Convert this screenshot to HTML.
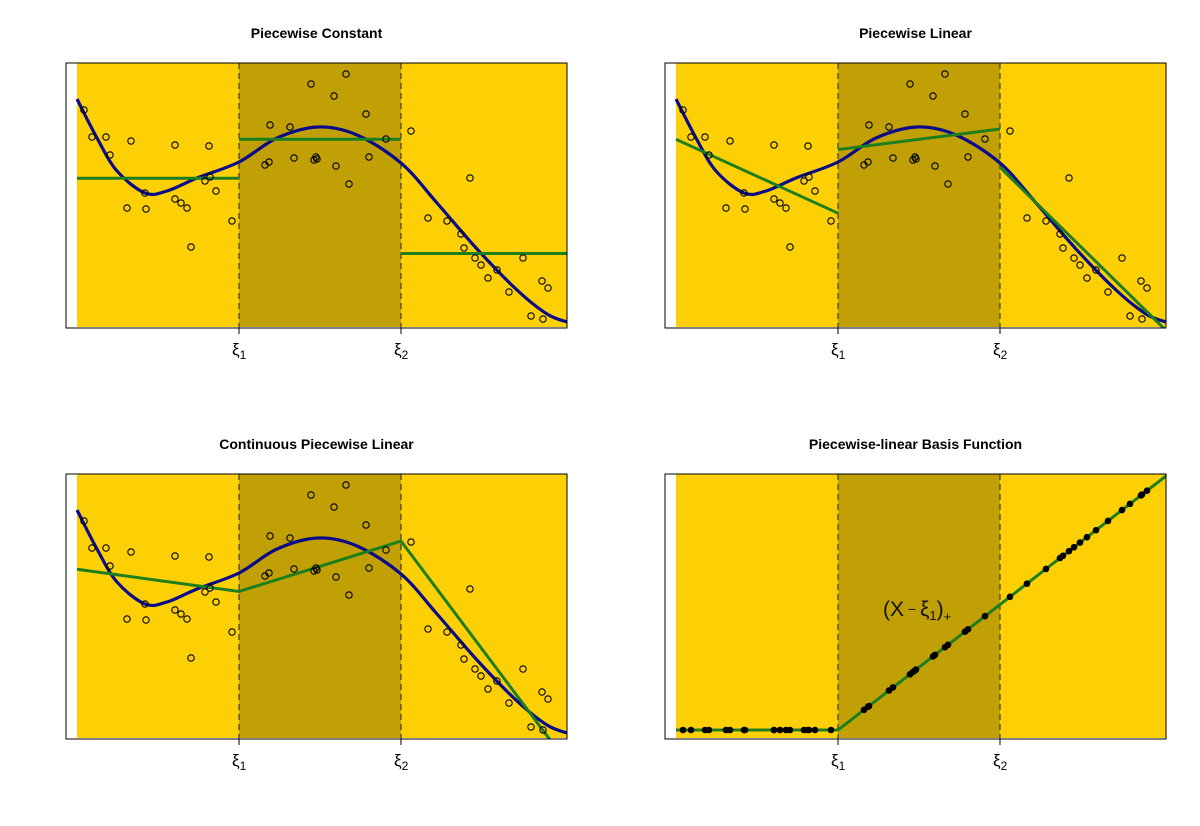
<!DOCTYPE html>
<html><head><meta charset="utf-8"><style>
body{margin:0;background:#fff;width:1200px;height:821px;overflow:hidden}
svg text{font-family:"Liberation Sans",sans-serif}
</style></head><body>
<svg id="c" width="1200" height="821" xmlns="http://www.w3.org/2000/svg"></svg>
<script>
// data (x in units where knots at 162 and 324, domain 0..490)
const xs=[7,15,29,33,50,54,69,68,98,98,104,110,114,128,133,132,139,155,188,192,193,213,217,234,237,239,240,257,259,269,272,289,292,309,334,351,370,384,393,387,398,404,411,420,432,446,454,466,465,471];
const ys=[218,191,191,173,120,187,119,135,183,129,125,120,81,147,151,182,137,107,163,166,203,201,170,244,168,171,169,232,162,254,144,214,171,189,197,110,107,94,150,80,70,63,50,58,36,70,12,9,47,40];
const trueX=[0,20,40,68,90,120,162,200,241,280,324,360,400,440,470,490];
const trueY=[229,190,157,135,137,150,166,190,201,193,165,125,79,38,14,6];
const knots=[162,324];
const titles=["Piecewise Constant","Piecewise Linear","Continuous Piecewise Linear","Piecewise-linear Basis Function"];
const tickLabels=["ξ","ξ"];
const NS="http://www.w3.org/2000/svg";
const svg=document.getElementById('c');
function mk(t,a,p){const e=document.createElementNS(NS,t);for(const k in a)e.setAttribute(k,a[k]);(p||svg).appendChild(e);return e;}
function solve(A,b){const n=b.length;A=A.map((r,i)=>[...r,b[i]]);for(let i=0;i<n;i++){let m=i;for(let j=i+1;j<n;j++)if(Math.abs(A[j][i])>Math.abs(A[m][i]))m=j;[A[i],A[m]]=[A[m],A[i]];for(let j=i+1;j<n;j++){const f=A[j][i]/A[i][i];for(let k=i;k<=n;k++)A[j][k]-=f*A[i][k];}}const x=Array(n).fill(0);for(let i=n-1;i>=0;i--){let s=A[i][n];for(let k=i+1;k<n;k++)s-=A[i][k]*x[k];x[i]=s/A[i][i];}return x;}
function lsq(basis,X,Y){const p=basis(0).length;const A=Array.from({length:p},()=>Array(p).fill(0));const b=Array(p).fill(0);X.forEach((x,i)=>{const f=basis(x);for(let a=0;a<p;a++){b[a]+=f[a]*Y[i];for(let c=0;c<p;c++)A[a][c]+=f[a]*f[c];}});return solve(A,b);}
function spline(pts){let d=`M${pts[0][0]},${pts[0][1]}`;for(let i=0;i<pts.length-1;i++){const p0=pts[Math.max(0,i-1)],p1=pts[i],p2=pts[i+1],p3=pts[Math.min(pts.length-1,i+2)];d+=` C${p1[0]+(p2[0]-p0[0])/6},${p1[1]+(p2[1]-p0[1])/6} ${p2[0]-(p3[0]-p1[0])/6},${p2[1]-(p3[1]-p1[1])/6} ${p2[0]},${p2[1]}`;}return d;}
const boxes=[[66,63],[665,63],[66,474],[665,474]];
boxes.forEach((b,pi)=>{
  const [bx,by]=b,W=501,H=265;
  const g=mk('g',{},svg);
  
  
  const sx=x=>bx+11+x;
  const sy=pi==3?(y=>by+H-9-y*254/328):(y=>by+H-y);
  const cid='clip'+pi;
  const cp=mk('clipPath',{id:cid},g);mk('rect',{x:bx,y:by,width:W,height:H},cp);
  const r1=mk('rect',{x:sx(0),y:by,width:bx+W-sx(0),height:H-1,fill:'#FDD005'},g);
  
  const r2=mk('rect',{x:sx(knots[0]),y:by,width:sx(knots[1])-sx(knots[0]),height:H-1,fill:'#C1A005'},g);
  
  knots.forEach((k,i)=>{
    mk('line',{x1:sx(k),x2:sx(k),y1:by,y2:by+H,stroke:'#222','stroke-width':1,'stroke-dasharray':'6,4'},g);
    mk('line',{x1:sx(k),x2:sx(k),y1:by+H,y2:by+H+6,stroke:'#000','stroke-width':1},g);
    const t=mk('text',{x:sx(k)-7,y:by+H+27,'font-size':17},g);t.textContent=tickLabels[i];
    
    const s=mk('tspan',{'font-size':12,dy:4},t);s.textContent=String(i+1);
  });
  const cg=mk('g',{'clip-path':`url(#${cid})`},g);
  if(pi<3){
    const bl=mk('path',{d:spline(trueX.map((x,i)=>[sx(x),sy(trueY[i])])),fill:'none',stroke:'#0B0B8A','stroke-width':3.2},cg);
    
    const segs=[[0,knots[0]],[knots[0],knots[1]],[knots[1],490]];
    const green={fill:'none',stroke:'#1E7E1E','stroke-width':3};
    if(pi==0||pi==1){
      segs.forEach((s,si)=>{
        const X=[],Y=[];xs.forEach((x,i)=>{if(x>=s[0]&&x<s[1]){X.push(x);Y.push(ys[i]);}});
        const c=pi==0?lsq(x=>[1],X,Y):lsq(x=>[1,x],X,Y);
        const f=x=>pi==0?c[0]:c[0]+c[1]*x;
        const l=mk('line',Object.assign({x1:sx(s[0]),y1:sy(f(s[0])),x2:sx(s[1]),y2:sy(f(s[1]))},green),cg);
        
      });
    } else {
      const bas=x=>[1,x,Math.max(0,x-knots[0]),Math.max(0,x-knots[1])];
      const c=lsq(bas,xs,ys);const f=x=>bas(x).reduce((s,v,i)=>s+v*c[i],0);
      const p=[0,knots[0],knots[1],500].map(x=>`${sx(x)},${sy(f(x))}`).join(' ');
      const l=mk('polyline',Object.assign({points:p},green),cg);
      
    }
    xs.forEach((x,i)=>{const c=mk('circle',{cx:sx(x),cy:sy(ys[i]),r:3.2,fill:'none',stroke:'#000','stroke-width':1.1},cg);
      });
  } else {
    const h=x=>Math.max(0,x-knots[0]);
    const l=mk('polyline',{points:[0,knots[0],500].map(x=>`${sx(x)},${sy(h(x))}`).join(' '),fill:'none',stroke:'#1E7E1E','stroke-width':3},cg);
    
    xs.forEach(x=>{const c=mk('circle',{cx:sx(x),cy:sy(h(x)),r:3.3,fill:'#000'},cg);
      });
    const t=mk('text',{x:883,y:616,'font-size':21,fill:'#111'},g);
    
    t.innerHTML='(X<tspan font-size="14" dy="-2"> − </tspan><tspan dy="2">ξ</tspan><tspan font-size="13" dy="4">1</tspan><tspan dy="-4">)</tspan><tspan font-size="13" dy="5">+</tspan>';
  }
  const fr=mk('rect',{x:bx,y:by,width:W,height:H,fill:'none',stroke:'#000','stroke-width':1},g);
  
  const tt=mk('text',{x:bx+W/2,y:by-25,'font-size':14,'font-weight':'bold','text-anchor':'middle'},g);
  tt.textContent=titles[pi];
});
</script>
</body></html>
